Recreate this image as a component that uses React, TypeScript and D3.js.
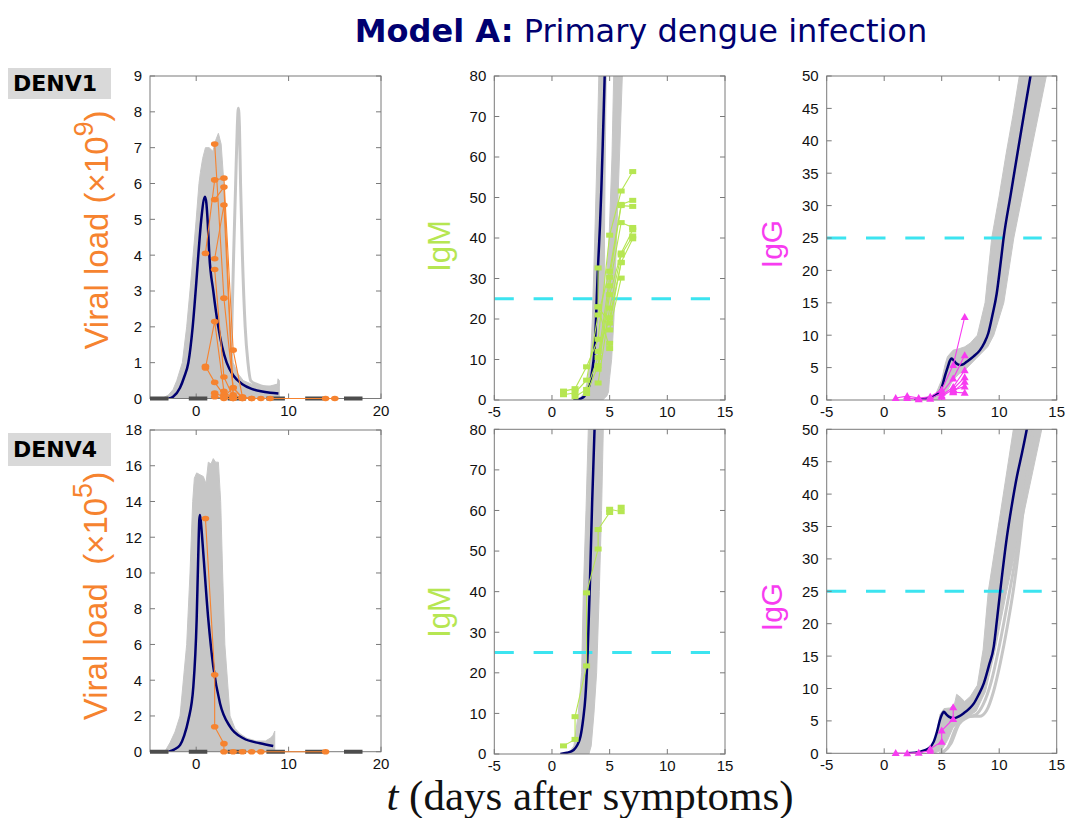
import React from 'react';
import * as d3 from 'd3';

type Pt = [number, number];

// ===================== TEXT =====================
const titleBold = 'Model A:';
const titleRest = ' Primary dengue infection';
const xAxisVar = 't';
const xAxisText = ' (days after symptoms)';
const rowLabels = ['DENV1', 'DENV4'];

// ===================== TICKS =====================
const vlXTicks = [0, 10, 20];
const abXTicks = [-5, 0, 5, 10, 15];
const vl1YTicks = [0, 1, 2, 3, 4, 5, 6, 7, 8, 9];
const vl4YTicks = [0, 2, 4, 6, 8, 10, 12, 14, 16, 18];
const igmYTicks = [0, 10, 20, 30, 40, 50, 60, 70, 80];
const iggYTicks = [0, 5, 10, 15, 20, 25, 30, 35, 40, 45, 50];
const threshold = 25;
const thresholdEnd = 13.7;

// ===================== DENV1 VIRAL LOAD (x10^9) =====================
const vl1BandUpper: Pt[] = [
  [-3.7, 0], [-3, 0.1], [-2.5, 0.25], [-2.1, 0.5], [-1.5, 1.0], [-1.03, 2.0], [-0.5, 3.5], [0, 5.0],
  [0.3, 6.0], [0.45, 6.3], [0.7, 6.7], [1.0, 7.0], [1.4, 7.0], [1.8, 6.9], [2.1, 7.2], [2.4, 7.4],
  [2.7, 7.1], [3.0, 6.0], [3.3, 4.0], [3.66, 2.0], [4.0, 1.0], [4.5, 0.7], [5.1, 0.5], [6, 0.4],
  [7, 0.35], [8, 0.35], [8.8, 0.4], [8.85, 0.55], [9, 0.5],
];
const vl1BandLower: Pt[] = [[-3.7, 0], [9, 0]];
const vl1Extra: Pt[] = [
  [2.5, 0.2], [3.0, 0.4], [3.4, 0.7], [3.6, 1.0], [3.85, 2.0], [4.05, 4.0], [4.27, 6.0], [4.45, 7.6],
  [4.56, 8.1], [4.68, 7.6], [4.8, 6.0], [5.0, 4.0], [5.3, 2.0], [5.6, 1.0], [5.9, 0.5], [6.5, 0.4],
  [7, 0.35], [8, 0.3], [9, 0.4],
];
const vl1Model: Pt[] = [
  [-3.0, 0], [-2.5, 0.05], [-1.75, 0.3], [-1.3, 0.6], [-0.85, 1.0], [-0.38, 2.0], [0, 3.2], [0.23, 4.0],
  [0.55, 5.0], [0.95, 5.63], [1.1, 5.45], [1.25, 4.9], [1.42, 4.0], [1.85, 3.0], [2.39, 2.0], [2.8, 1.45],
  [3.3, 1.0], [4, 0.65], [5, 0.4], [6, 0.27], [7, 0.2], [8, 0.16], [8.9, 0.14],
];
const vl1Patients: Pt[][] = [
  [[1, 4.05], [2, 6.1], [3, 6.15], [4, 1.35], [5, 0.05], [6, 0]],
  [[2, 7.1], [3, 2.8], [4, 0.3], [5, 0]],
  [[2, 5.55], [3, 5.9], [4, 0.1], [5, 0.02]],
  [[2, 3.9], [3, 5.4], [4, 0.05]],
  [[2, 3.6], [3, 0.6], [4, 0.05]],
  [[1, 0.85], [2, 2.15], [3, 0.2], [4, 0]],
  [[1, 0.9], [2, 0.45], [3, 0.1], [4, 0.02]],
  [[2, 0.15], [3, 0.05], [4, 0.3], [5, 0.03]],
  [[2, 0.05], [3, 0], [4, 0], [5, 0], [6, 0], [7, 0], [8, 0], [14, 0], [15, 0]],
];

// ===================== DENV1 IgM =====================
const igm1BandMainLeft: Pt[] = [
  [2.2, 0], [2.6, 1], [2.85, 2], [3.1, 5], [3.34, 10], [3.5, 20], [3.71, 40], [3.9, 60], [4.06, 80], [4.1, 85],
];
const igm1BandMainRight: Pt[] = [
  [3.6, 0], [3.8, 1], [4.0, 2], [4.2, 5], [4.35, 10], [4.6, 20], [4.55, 40], [4.62, 60], [4.7, 80], [4.72, 85],
];
const igm1BandSideLeft: Pt[] = [
  [3.0, 0], [3.3, 1], [3.5, 2], [3.9, 5], [4.2, 10], [4.5, 20], [4.95, 40], [5.2, 60], [5.35, 80], [5.38, 85],
];
const igm1BandSideRight: Pt[] = [
  [4.4, 0], [4.75, 1], [4.9, 2], [4.98, 5], [5.17, 10], [5.37, 20], [5.6, 40], [5.85, 60], [6.1, 80], [6.15, 85],
];
const igm1Model: Pt[] = [
  [1.85, 0], [2.2, 0.1], [2.5, 0.35], [2.8, 0.9], [3.05, 2.0], [3.3, 4.3], [3.5, 7.5], [3.65, 11], [3.76, 16],
  [3.82, 20], [3.88, 25], [3.96, 31], [4.06, 37], [4.16, 43], [4.28, 52], [4.4, 63], [4.5, 73], [4.57, 80], [4.62, 86],
];
const igm1Patients: Pt[][] = [
  [[1, 2.2], [2, 2.8], [3, 8.2], [4, 15], [5, 40.7], [6, 51.6], [7, 56.4]],
  [[1, 1.3], [2, 1.8], [3, 4.9], [4, 21], [5, 31.8], [6, 48.3], [7, 49.3]],
  [[2, 0.8], [3, 2.6], [4, 10.5], [5, 30.3], [6, 48], [7, 47.8]],
  [[3, 1.6], [4, 8.5], [5, 28.2], [6, 43.8], [7, 42.6]],
  [[4, 7.6], [5, 26], [6, 36.3], [7, 42]],
  [[4, 4.2], [5, 22.7], [6, 35.8], [7, 40.5]],
  [[4, 12], [5, 20.3], [6, 34], [7, 39.8]],
  [[4, 23], [5, 19], [6, 33.9]],
  [[5, 17.3], [6, 30.1]],
  [[4, 32.6], [4, 23], [5, 12.7], [5, 14]],
];

// ===================== DENV1 IgG =====================
const igg1BandUpper: Pt[] = [
  [3.7, 0], [4.5, 1], [5.0, 3.1], [5.3, 5.5], [5.5, 6.7], [6.0, 7.7], [6.5, 7.9], [7.0, 8.2], [7.5, 8.8],
  [8.1, 10], [8.77, 15], [9.35, 25], [10.0, 31.5], [10.6, 38], [11.2, 44], [11.75, 50], [12.2, 54],
];
const igg1BandLower: Pt[] = [
  [4.3, 0], [5.0, 0.2], [5.5, 1.5], [6.0, 3.1], [6.5, 4.0], [7.0, 4.6], [8.0, 6.4], [9.0, 8.2], [9.53, 10],
  [10.4, 15], [11.27, 25], [12.0, 31.5], [12.9, 39.5], [14.1, 50], [14.5, 53.5],
];
const igg1Model: Pt[] = [
  [2.6, 0], [3.2, 0.1], [3.74, 0.26], [4.2, 0.55], [4.46, 0.77], [4.7, 1.1], [4.9, 1.5], [5.05, 2.2],
  [5.19, 3.1], [5.35, 4.1], [5.53, 5.1], [5.7, 6.0], [5.83, 6.4], [6.0, 6.2], [6.2, 5.75], [6.4, 5.5],
  [6.63, 5.4], [6.9, 5.55], [7.17, 5.9], [7.75, 6.7], [8.33, 7.7], [8.7, 8.8], [9.05, 10.3], [9.4, 13],
  [9.78, 16.4], [10.1, 20.8], [10.4, 25.2], [11.0, 31.7], [11.6, 38.2], [12.2, 44.6], [12.72, 50], [13.2, 55],
];
const igg1Patients: Pt[][] = [
  [[1, 0.3], [2, 0.6], [3, 0.3], [4, 0.5], [5, 1.6], [6, 5.4], [7, 12.8]],
  [[2, 0.3], [3, 0.1], [4, 0.2], [5, 1.1], [6, 3.3], [7, 6.9]],
  [[5, 0.7], [6, 2], [7, 4.6]],
  [[5, 0.5], [6, 1.7], [7, 3.5]],
  [[6, 1.3], [7, 2.8]],
  [[6, 1.5], [7, 2.1]],
  [[6, 1.2], [7, 1.1]],
];

// ===================== DENV4 VIRAL LOAD (x10^5) =====================
const vl4BandUpper: Pt[] = [
  [-3.4, 0], [-2.84, 0.5], [-2.3, 1.1], [-1.75, 2], [-1.03, 6], [-0.67, 10], [-0.38, 14], [-0.2, 15.3],
  [0.05, 15.6], [0.4, 15.5], [0.77, 15.4], [1.06, 15.0], [1.31, 16.2], [1.6, 16.1], [1.85, 16.4],
  [2.1, 16.2], [2.4, 16.2], [2.65, 14], [2.86, 10], [3.1, 6], [3.66, 2], [4.2, 1.3], [4.74, 1.0],
  [5.5, 0.75], [6.5, 0.6], [7.5, 0.6], [8.0, 0.75], [8.3, 0.9], [8.5, 1.15],
];
const vl4BandLower: Pt[] = [[-3.4, 0], [8.5, 0]];
const vl4Model: Pt[] = [
  [-3.0, 0], [-2.4, 0.12], [-1.75, 0.37], [-1.3, 0.9], [-0.85, 1.77], [-0.31, 3.64], [0.05, 7.4],
  [0.2, 10.5], [0.34, 13.0], [0.41, 13.25], [0.55, 12.6], [0.77, 11.1], [1.31, 7.4], [1.85, 4.76],
  [2.58, 2.7], [3.66, 1.4], [5.1, 0.75], [6.9, 0.47], [8.34, 0.32],
];
const vl4Patients: Pt[][] = [
  [[1, 13.05], [2, 4.3], [2, 1.4], [3, 0.45], [3, 0], [4, 0], [5, 0], [6, 0], [7, 0], [14, 0]],
];

// ===================== DENV4 IgM =====================
const igm4BandLeft: Pt[] = [
  [1.4, 0], [1.9, 2], [2.28, 10], [2.57, 20], [2.72, 40], [2.95, 60], [3.15, 80], [3.18, 85],
];
const igm4BandRight: Pt[] = [
  [3.2, 0], [3.4, 2], [3.64, 10], [3.87, 20], [4.1, 40], [4.3, 60], [4.45, 80], [4.48, 85],
];
const igm4Model: Pt[] = [
  [0.72, 0], [1.3, 0.3], [1.88, 1], [2.2, 2.2], [2.47, 4.3], [2.7, 8.5], [2.9, 14.1], [3.09, 24.8],
  [3.28, 41.2], [3.48, 61.7], [3.69, 80], [3.75, 86],
];
const igm4Patients: Pt[][] = [
  [[1, 2], [2, 3.6], [2, 9.2], [3, 21.7], [3, 39.7], [4, 50.5], [4, 55.3], [5, 59.5], [5, 60.3], [6, 59.7], [6, 60.8]],
];

// ===================== DENV4 IgG =====================
const igg4BandUpper: Pt[] = [
  [3.8, 0], [4.3, 1.5], [4.6, 3.5], [4.85, 6.0], [5.2, 6.9], [5.7, 7.0], [6.1, 7.5], [6.3, 9.1], [6.6, 8.7],
  [7.0, 8.0], [7.5, 8.8], [8.1, 10.5], [8.6, 16], [9.05, 25], [10.1, 37], [11.23, 50], [11.6, 54],
];
const igg4BandLower: Pt[] = [
  [4.3, 0], [5.0, 0.5], [5.5, 2.0], [6.0, 4.0], [6.5, 4.8], [7.0, 5.3], [8.0, 6.5], [8.8, 9.5], [9.6, 15.5],
  [10.65, 25], [12.2, 37.5], [13.7, 50], [14.0, 53],
];
const igg4Outliers: Pt[][] = [
  [[4.8, 0], [5.5, 0.8], [6.2, 3.8], [6.8, 5.3], [7.5, 5.7], [8.3, 5.7], [8.9, 6.6], [9.5, 9.5], [10.1, 14],
    [10.7, 19.5], [11.3, 26], [11.8, 33], [12.3, 41], [12.8, 50], [13.0, 53]],
  [[5.0, 0], [5.8, 1.5], [6.5, 4.5], [7.2, 5.5], [8.0, 6.0], [8.6, 7.5], [9.3, 11], [10.0, 16.5], [10.8, 24],
    [11.5, 31], [12.0, 37], [12.6, 45], [13.0, 51], [13.2, 54]],
];
const igg4Model: Pt[] = [
  [2.0, 0], [3.16, 0.26], [3.88, 0.77], [4.31, 1.8], [4.6, 3.4], [4.84, 5.1], [5.0, 5.9], [5.19, 6.4],
  [5.4, 6.0], [5.62, 5.66], [6.05, 5.4], [6.5, 5.7], [6.92, 6.2], [7.4, 6.9], [7.8, 7.7], [8.2, 9.0],
  [8.66, 10.8], [9.1, 13.5], [9.53, 16.5], [9.8, 20.5], [10.1, 25.2], [10.67, 33.4], [11.1, 38.3],
  [11.54, 42.7], [12.0, 46.5], [12.4, 50], [12.7, 53],
];
const igg4Patients: Pt[][] = [
  [[1, 0.05], [2, 0], [3, 0.1], [4, 0.4], [4, 0.7], [5, 1.8], [5, 3.5], [6, 5.3], [6, 7.1]],
];

// ===================== STYLE =====================
const ORANGE = '#f6832f';
const GREEN = '#b6e652';
const MAGENTA = '#f73cf0';
const CYAN = '#3ce4f0';
const NAVY = '#000070';
const BANDC = '#c6c6c6';
const FRAME = '#7a7a7a';
const SANS = '"Liberation Sans", Arial, Helvetica, sans-serif';

type Kind = 'vl' | 'igm' | 'igg';
interface Band { a: Pt[]; b: Pt[] }
interface Spec {
  id: string;
  left: number; right: number; top: number; bottom: number;
  xDomain: [number, number]; yDomain: [number, number];
  xTicks: number[]; yTicks: number[];
  bands: Band[]; extras: Pt[][]; model: Pt[]; patients: Pt[][];
  kind: Kind;
  label: React.ReactNode; labelX: number; labelY: number;
}

const vlLabel = (exp: string, gap: string) => (
  <text fill={ORANGE} fontFamily={SANS} fontSize={33} textAnchor="middle">
    {'Viral load' + gap + '(×10'}
    <tspan fontSize={27} dy={-15}>{exp}</tspan>
    <tspan dy={15}>{')'}</tspan>
  </text>
);
const simpleLabel = (t: string, color: string, size: number) => (
  <text fill={color} fontFamily={SANS} fontSize={size} textAnchor="middle">{t}</text>
);

const specs: Spec[] = [
  {
    id: 'p1', left: 150, right: 381, top: 76, bottom: 398.5, xDomain: [-5, 20], yDomain: [0, 9],
    xTicks: vlXTicks, yTicks: vl1YTicks,
    bands: [{ a: vl1BandUpper, b: vl1BandLower }], extras: [vl1Extra], model: vl1Model, patients: vl1Patients,
    kind: 'vl', label: vlLabel('9', ' '), labelX: 108, labelY: 230,
  },
  {
    id: 'p2', left: 494.3, right: 725, top: 76, bottom: 400, xDomain: [-5, 15], yDomain: [0, 80],
    xTicks: abXTicks, yTicks: igmYTicks,
    bands: [{ a: igm1BandMainLeft, b: igm1BandMainRight }, { a: igm1BandSideLeft, b: igm1BandSideRight }],
    extras: [], model: igm1Model, patients: igm1Patients,
    kind: 'igm', label: simpleLabel('IgM', GREEN, 31), labelX: 450, labelY: 246,
  },
  {
    id: 'p3', left: 826.7, right: 1056.7, top: 76, bottom: 400, xDomain: [-5, 15], yDomain: [0, 50],
    xTicks: abXTicks, yTicks: iggYTicks,
    bands: [{ a: igg1BandUpper, b: igg1BandLower }], extras: [], model: igg1Model, patients: igg1Patients,
    kind: 'igg', label: simpleLabel('IgG', MAGENTA, 30), labelX: 782, labelY: 244,
  },
  {
    id: 'p4', left: 150, right: 381, top: 430, bottom: 751.7, xDomain: [-5, 20], yDomain: [0, 18],
    xTicks: vlXTicks, yTicks: vl4YTicks,
    bands: [{ a: vl4BandUpper, b: vl4BandLower }], extras: [], model: vl4Model, patients: vl4Patients,
    kind: 'vl', label: vlLabel('5', '\u00A0\u00A0'), labelX: 107, labelY: 596,
  },
  {
    id: 'p5', left: 494.3, right: 725, top: 429.3, bottom: 754, xDomain: [-5, 15], yDomain: [0, 80],
    xTicks: abXTicks, yTicks: igmYTicks,
    bands: [{ a: igm4BandLeft, b: igm4BandRight }], extras: [], model: igm4Model, patients: igm4Patients,
    kind: 'igm', label: simpleLabel('IgM', GREEN, 31), labelX: 450, labelY: 612,
  },
  {
    id: 'p6', left: 826.7, right: 1056.7, top: 429.3, bottom: 753.3, xDomain: [-5, 15], yDomain: [0, 50],
    xTicks: abXTicks, yTicks: iggYTicks,
    bands: [{ a: igg4BandUpper, b: igg4BandLower }], extras: igg4Outliers, model: igg4Model, patients: igg4Patients,
    kind: 'igg', label: simpleLabel('IgG', MAGENTA, 30), labelX: 782, labelY: 607,
  },
];

function Marker({ kind, cx, cy }: { kind: Kind; cx: number; cy: number }) {
  if (kind === 'vl') return <ellipse cx={cx} cy={cy} rx={3.8} ry={2.8} fill={ORANGE} />;
  if (kind === 'igm') return <rect x={cx - 3.5} y={cy - 2.5} width={7} height={5} fill={GREEN} />;
  return <path d={`M${cx},${cy - 4}L${cx + 4},${cy + 3}L${cx - 4},${cy + 3}Z`} fill={MAGENTA} />;
}

function Panel({ s }: { s: Spec }) {
  const x = d3.scaleLinear().domain(s.xDomain).range([s.left, s.right]);
  const y = d3.scaleLinear().domain(s.yDomain).range([s.bottom, s.top]);
  const poly = d3.line<Pt>().x(d => x(d[0])).y(d => y(d[1]));
  const smooth = d3.line<Pt>().x(d => x(d[0])).y(d => y(d[1])).curve(d3.curveMonotoneX);
  const col = s.kind === 'vl' ? ORANGE : s.kind === 'igm' ? GREEN : MAGENTA;
  const clipId = `clip-${s.id}`;
  return (
    <g>
      <defs>
        <clipPath id={clipId}>
          <rect x={s.left} y={s.top} width={s.right - s.left} height={s.bottom - s.top} />
        </clipPath>
      </defs>
      <g clipPath={`url(#${clipId})`}>
        {s.bands.map((b, i) => (
          <path key={i} d={(poly([...b.a, ...b.b.slice().reverse()]) || '') + 'Z'} fill={BANDC} stroke={BANDC} strokeWidth={1} />
        ))}
        {s.extras.map((e, i) => (
          <path key={i} d={smooth(e) || ''} fill="none" stroke={BANDC} strokeWidth={3} />
        ))}
        {s.kind !== 'vl' && (
          <line x1={x(s.xDomain[0])} x2={x(thresholdEnd)} y1={y(threshold)} y2={y(threshold)}
            stroke={CYAN} strokeWidth={3} strokeDasharray="19.5 19.8" />
        )}
        <path d={smooth(s.model) || ''} fill="none" stroke={NAVY} strokeWidth={2.5} />
      </g>
      {/* frame */}
      <rect x={s.left} y={s.top} width={s.right - s.left} height={s.bottom - s.top} fill="none" stroke={FRAME} strokeWidth={1} />
      {s.xTicks.map(t => (
        <g key={'xt' + t}>
          <line x1={x(t)} x2={x(t)} y1={s.bottom} y2={s.bottom - 5} stroke={FRAME} />
          <line x1={x(t)} x2={x(t)} y1={s.top} y2={s.top + 5} stroke={FRAME} />
          <text x={x(t)} y={s.bottom + 17} textAnchor="middle" fontFamily={SANS} fontSize={15} fill="#111">{t}</text>
        </g>
      ))}
      {s.yTicks.map(t => (
        <g key={'yt' + t}>
          <line x1={s.left} x2={s.left + 5} y1={y(t)} y2={y(t)} stroke={FRAME} />
          <line x1={s.right} x2={s.right - 5} y1={y(t)} y2={y(t)} stroke={FRAME} />
          <text x={s.left - 8} y={y(t)} dy="0.36em" textAnchor="end" fontFamily={SANS} fontSize={15} fill="#111">{t}</text>
        </g>
      ))}
      {s.kind === 'vl' && (
        <line x1={s.left} x2={s.right} y1={y(0)} y2={y(0)} stroke="#4d4d4d" strokeWidth={4} strokeDasharray="18.5 20.3" />
      )}
      {/* patient data */}
      {s.patients.map((p, i) => (
        <g key={'pt' + i}>
          <path d={poly(p) || ''} fill="none" stroke={col} strokeWidth={1.1} />
          {p.map((d, j) => <Marker key={j} kind={s.kind} cx={x(d[0])} cy={y(d[1])} />)}
        </g>
      ))}
      <g transform={`translate(${s.labelX},${s.labelY}) rotate(-90)`}>{s.label}</g>
    </g>
  );
}

export default function App() {
  return (
    <svg width={1069} height={818} style={{ position: 'absolute', left: 0, top: 0, background: '#fff' }}>
      <rect x={0} y={0} width={1069} height={818} fill="#fff" />
      <text x={641} y={42} textAnchor="middle" fontFamily='"DejaVu Sans", Verdana, sans-serif' fontSize={32} fill={NAVY}>
        <tspan fontWeight="bold">{titleBold}</tspan>
        <tspan>{titleRest}</tspan>
      </text>
      {rowLabels.map((r, i) => (
        <g key={r}>
          <rect x={8} y={i === 0 ? 68 : 433} width={103} height={i === 0 ? 31 : 33} fill="#d9d9d9" />
          <text x={13} y={i === 0 ? 91 : 457} fontFamily='"DejaVu Sans", sans-serif' fontWeight="bold" fontSize={22} fill="#000">{r}</text>
        </g>
      ))}
      {specs.map(s => <Panel key={s.id} s={s} />)}
      <text x={590} y={810} textAnchor="middle" fontFamily='"Liberation Serif", "Times New Roman", serif' fontSize={43} fill="#111">
        <tspan fontStyle="italic">{xAxisVar}</tspan>
        <tspan>{xAxisText}</tspan>
      </text>
    </svg>
  );
}
